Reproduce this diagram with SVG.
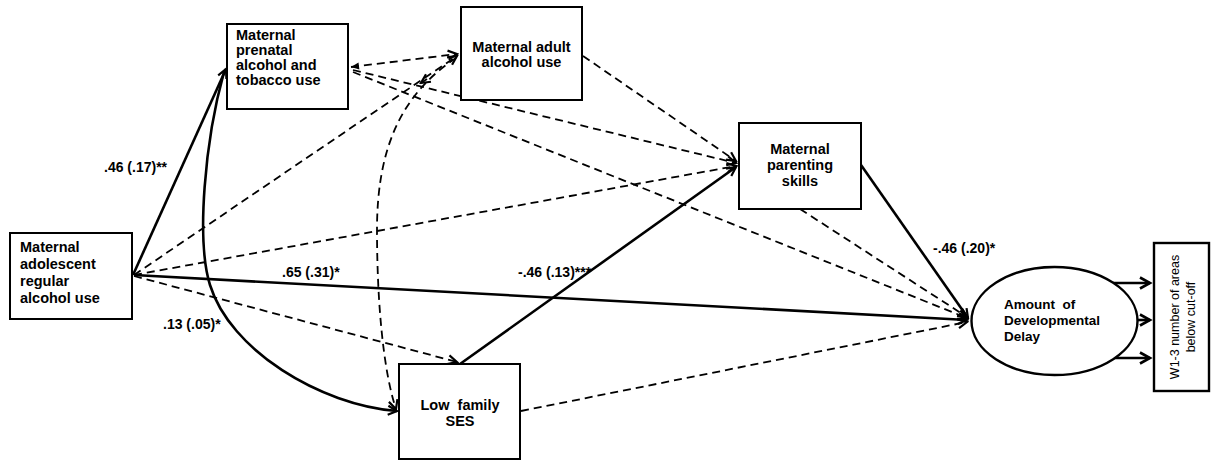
<svg xmlns="http://www.w3.org/2000/svg" width="1216" height="463" viewBox="0 0 1216 463">
<style>
.box{fill:#fff;stroke:#000;stroke-width:2}
.t{font-family:"Liberation Sans",Arial,sans-serif;font-weight:bold;font-size:14.5px;fill:#000}
.tc{text-anchor:middle}
.lbl{font-family:"Liberation Sans",Arial,sans-serif;font-weight:bold;font-size:14px;fill:#000}
.sol{fill:none;stroke:#000;stroke-width:2.6}
.dash{fill:none;stroke:#000;stroke-width:1.8;stroke-dasharray:8 5}
</style>
<defs>
<marker id="a" markerUnits="userSpaceOnUse" markerWidth="14" markerHeight="14" refX="10" refY="5" orient="auto" viewBox="-2 -2 14 14">
<path d="M1,0.5 L10,5 L1,9.5" fill="none" stroke="#000" stroke-width="2.2"/>
</marker>
<marker id="af" markerUnits="userSpaceOnUse" markerWidth="10" markerHeight="10" refX="0" refY="4" orient="auto" viewBox="0 0 10 8">
<path d="M0,4 L8,0.5 L8,7.5 Z" fill="#000"/>
</marker>
<marker id="ab" markerUnits="userSpaceOnUse" markerWidth="16" markerHeight="16" refX="11" refY="6" orient="auto" viewBox="-2 -2 16 16">
<path d="M1,0.5 L11,6 L1,11.5" fill="none" stroke="#000" stroke-width="2.6"/>
</marker>
</defs>

<g id="connectors">
<path class="dash" d="M351 67 L457 54" marker-start="url(#af)" marker-end="url(#a)"/>
<path class="dash" d="M134 275 L457 56" marker-end="url(#a)"/>
<path class="dash" d="M456 58 C400 95, 377 150, 377 230 C377 300, 383 370, 396 409" marker-end="url(#a)"/>
<path class="dash" d="M427 79 L421 83" marker-end="url(#a)"/>
<path class="dash" d="M353 70 L736 163" marker-end="url(#a)"/>
<path class="dash" d="M353 72 L967 318" marker-end="url(#a)"/>
<path class="dash" d="M583 56 L736 161" marker-end="url(#a)"/>
<path class="dash" d="M134 275 L736 166" marker-end="url(#a)"/>
<path class="dash" d="M134 276 L457 362" marker-end="url(#a)"/>
<path class="dash" d="M521 411 L967 322" marker-end="url(#a)"/>
<path class="dash" d="M800 209 L967 317" marker-end="url(#a)"/>
<path class="sol" d="M133 275 L226 69" marker-end="url(#a)"/>
<path class="sol" d="M224 72 C205 140, 196 240, 210 285 C230 350, 320 405, 397 411" marker-end="url(#a)"/>
<path class="sol" d="M134 275 L967 320" marker-end="url(#a)"/>
<path class="sol" d="M460 364 L736 167" marker-end="url(#a)"/>
<path class="sol" d="M861 165 L968 318" marker-end="url(#a)"/>
<path class="sol" d="M1113 283 L1150 283" marker-end="url(#ab)"/>
<path class="sol" d="M1138 320 L1150 320" marker-end="url(#ab)"/>
<path class="sol" d="M1113 358 L1150 358" marker-end="url(#ab)"/>
</g>

<g id="labels">
<text class="lbl" x="104" y="172">.46 (.17)**</text>
<text class="lbl" x="282" y="277">.65 (.31)*</text>
<text class="lbl" x="163" y="329">.13 (.05)*</text>
<text class="lbl" x="518" y="277">-.46 (.13)***</text>
<text class="lbl" x="933" y="253">-.46 (.20)*</text>
</g>

<g id="prenatal">
<rect class="box" x="227" y="24" width="121" height="85"/>
<text class="t" x="236" y="40">Maternal</text>
<text class="t" x="236" y="55">prenatal</text>
<text class="t" x="236" y="70">alcohol and</text>
<text class="t" x="236" y="85">tobacco use</text>
</g>

<g id="adult">
<rect class="box" x="461" y="7" width="121" height="93"/>
<text class="t tc" x="521.5" y="52">Maternal adult</text>
<text class="t tc" x="521.5" y="67">alcohol use</text>
</g>

<g id="parenting">
<rect class="box" x="739" y="123" width="122" height="86"/>
<text class="t tc" x="800" y="154">Maternal</text>
<text class="t tc" x="800" y="170">parenting</text>
<text class="t tc" x="800" y="186">skills</text>
</g>

<g id="adolescent">
<rect class="box" x="10" y="233" width="122" height="86"/>
<text class="t" x="20" y="252">Maternal</text>
<text class="t" x="20" y="269">adolescent</text>
<text class="t" x="20" y="286">regular</text>
<text class="t" x="20" y="303">alcohol use</text>
</g>

<g id="ses">
<rect class="box" x="399" y="364" width="121" height="95"/>
<text class="t tc" x="460" y="410" xml:space="preserve">Low  family</text>
<text class="t tc" x="460" y="426">SES</text>
</g>

<g id="delay">
<ellipse cx="1054.5" cy="321" rx="83" ry="54" fill="#fff" stroke="#000" stroke-width="2.4"/>
<text class="t" style="font-size:13.5px" x="1004" y="309" xml:space="preserve">Amount  of</text>
<text class="t" style="font-size:13.5px" x="1004" y="325">Developmental</text>
<text class="t" style="font-size:13.5px" x="1004" y="341">Delay</text>
</g>

<g id="indicator">
<rect x="1154" y="243" width="55" height="148" fill="#fff" stroke="#000" stroke-width="2.4"/>
<text font-family="'Liberation Sans',Arial,sans-serif" font-size="12.5" text-anchor="middle" transform="translate(1179,317) rotate(-90)">W1-3 number of areas</text>
<text font-family="'Liberation Sans',Arial,sans-serif" font-size="12.5" text-anchor="middle" transform="translate(1195,317) rotate(-90)">below cut-off</text>
</g>
</svg>
